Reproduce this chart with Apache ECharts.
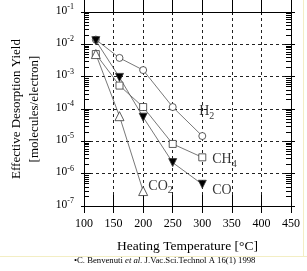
<!DOCTYPE html>
<html><head><meta charset="utf-8">
<script src="https://cdn.jsdelivr.net/npm/echarts@6/dist/echarts.min.js"></script>
<style>html,body{margin:0;padding:0;background:#fff}#c{width:307px;height:271px}</style>
</head><body><div id="c"></div>
<script>
// ---- data ----
const temps = [120, 160, 200, 250, 300];
const h2  = [1.4e-2, 3.8e-3, 1.6e-3, 1.15e-4, 1.46e-5];
const ch4 = [5.0e-3, 5.3e-4, 1.15e-4, 8.3e-6, 3.2e-6];
const co  = [1.3e-2, 9.5e-4, 5.6e-5, 2.2e-6, 4.7e-7];
const co2Temps = [120, 160, 200];
const co2 = [5.0e-3, 6.0e-5, 2.9e-7];
const xTicks = [100, 150, 200, 250, 300, 350, 400, 450];
const yExponents = [-7, -6, -5, -4, -3, -2, -1];
const speciesNames = ['H2', 'CH4', 'CO', 'CO2'];
// label anchor points (data space)
const labelPos = { H2: [294, 8.7e-5], CH4: [316, 2.85e-6], CO: [316, 3.06e-7], CO2: [208, 4.2e-7] };
const xTitle = 'Heating Temperature [°C]';
const yTitle = 'Effective Desorption Yield\n[molecules/electron]';
const footnote = ['•C. Benvenuti ', 'et al.', ' J.Vac.Sci.Technol A 16(1) 1998'];

// minor tick values for log axis
const minorVals = [];
for (const e of yExponents.slice(0, -1)) for (let k = 2; k <= 9; k++) minorVals.push(k * Math.pow(10, e));

const FONT = 'Liberation Serif';
const LINE = '#555';
const chart = echarts.init(document.getElementById('c'), null, { renderer: 'canvas' });

function subLabel(name) {
  const base = name.replace(/\d+$/, '');
  const sub = name.slice(base.length);
  return '{m|' + base + '}' + (sub ? '{s|' + sub + '}' : '');
}
const labelRich = {
  m: { fontFamily: FONT, fontSize: 14, color: '#000' },
  s: { fontFamily: FONT, fontSize: 10, color: '#000', padding: [10, 0, 0, 0] }
};

const xBase = { type: 'value', min: 100, max: 450, interval: 50, gridIndex: 0 };
const yBase = { type: 'log', logBase: 10, min: 1e-7, max: 1e-1, interval: 1, gridIndex: 0 };
const axLine = { show: true, lineStyle: { color: '#000', width: 1 } };
const noLine = { show: false };

const series = [];
const sets = [
  { name: 'H2', x: temps, y: h2, symbol: 'circle', size: 7, fill: '#fff' },
  { name: 'CH4', x: temps, y: ch4, symbol: 'rect', size: 7, fill: '#fff' },
  { name: 'CO', x: temps, y: co, symbol: 'triangle', size: 8, fill: '#000', rot: 180 },
  { name: 'CO2', x: co2Temps, y: co2, symbol: 'triangle', size: 9, fill: '#fff' }
];
for (const s of sets) {
  series.push({
    type: 'line', name: s.name, xAxisIndex: 0, yAxisIndex: 0,
    data: s.x.map((t, i) => [t, s.y[i]]),
    symbol: s.symbol, symbolSize: s.size, symbolRotate: s.rot || 0,
    showAllSymbol: true,
    lineStyle: { color: LINE, width: 0.8 },
    itemStyle: { color: s.fill, borderColor: '#333', borderWidth: 0.8 },
    z: 5, animation: false
  });
  series.push({
    type: 'scatter', xAxisIndex: 0, yAxisIndex: 0, silent: true, animation: false,
    data: [labelPos[s.name]], symbol: 'circle', symbolSize: 1,
    itemStyle: { color: 'rgba(0,0,0,0)' }, clip: false, z: 6,
    label: { show: true, position: 'right', distance: 0, formatter: subLabel(s.name), rich: labelRich }
  });
}

const gridLine = { show: true, lineStyle: { color: '#222', type: [3, 3], width: 1 } };
const option = {
  backgroundColor: '#fff',
  animation: false,
  grid: { left: 81, top: 12, width: 210, height: 194 },
  xAxis: [
    Object.assign({}, xBase, {
      position: 'bottom', axisLine: axLine,
      axisTick: { show: true, inside: false, length: 7, lineStyle: { color: '#000' } },
      axisLabel: { show: true, margin: 12, fontFamily: FONT, fontSize: 12, color: '#000',
        formatter: v => xTicks.includes(v) ? String(v) : '' },
      splitLine: gridLine,
      name: xTitle, nameLocation: 'middle', nameGap: 33,
      nameTextStyle: { fontFamily: FONT, fontSize: 13.5, color: '#000' }
    }),
    Object.assign({}, xBase, { position: 'bottom', axisLine: noLine,
      axisTick: { show: true, inside: true, length: 11, lineStyle: { color: '#000' } },
      axisLabel: { show: false }, splitLine: { show: false } }),
    Object.assign({}, xBase, { position: 'top', axisLine: axLine,
      axisTick: { show: true, inside: false, length: 12, lineStyle: { color: '#000' } },
      axisLabel: { show: false }, splitLine: { show: false } }),
    Object.assign({}, xBase, { position: 'top', axisLine: noLine,
      axisTick: { show: true, inside: true, length: 3, lineStyle: { color: '#000' } },
      axisLabel: { show: false }, splitLine: { show: false } })
  ],
  yAxis: [
    Object.assign({}, yBase, {
      position: 'left', axisLine: axLine,
      axisTick: { show: true, inside: false, length: 3, lineStyle: { color: '#000' } },
      axisLabel: { show: true, margin: 10, color: '#000',
        formatter: v => '{b|10}{s|' + Math.round(Math.log10(v)) + '}',
        rich: {
          b: { fontFamily: FONT, fontSize: 11.5, color: '#000', padding: [0, 0, 3, 0] },
          s: { fontFamily: FONT, fontSize: 8, color: '#000', padding: [0, 0, 10, 0] }
        } },
      splitLine: gridLine,
      name: yTitle, nameLocation: 'middle', nameGap: 40, nameRotate: 90,
      nameTextStyle: { fontFamily: FONT, fontSize: 13, color: '#000', lineHeight: 18, align: 'center' }
    }),
    Object.assign({}, yBase, { position: 'left', axisLine: noLine,
      axisTick: { show: true, inside: true, length: 7, lineStyle: { color: '#000' } },
      axisLabel: { show: false }, splitLine: { show: false } }),
    Object.assign({}, yBase, { position: 'right', axisLine: axLine,
      axisTick: { show: true, inside: false, length: 4, lineStyle: { color: '#000' } },
      axisLabel: { show: false }, splitLine: { show: false } }),
    Object.assign({}, yBase, { position: 'right', axisLine: noLine,
      axisTick: { show: true, inside: true, length: 6, lineStyle: { color: '#000' } },
      axisLabel: { show: false }, splitLine: { show: false } })
  ],
  series: series,
  graphic: [
    { type: 'line', shape: { x1: 0, y1: 256.5, x2: 307, y2: 256.5 }, style: { stroke: '#f3eec4', lineWidth: 1 }, silent: true },
    { type: 'line', shape: { x1: 303.5, y1: 0, x2: 303.5, y2: 257 }, style: { stroke: '#f3eec4', lineWidth: 1 }, silent: true },
    { type: 'text', left: 74, top: 256,
      style: { text: '{r|' + footnote[0] + '}{i|' + footnote[1] + '}{r|' + footnote[2] + '}',
        rich: {
          r: { fontFamily: FONT, fontSize: 8.7, fill: '#000' },
          i: { fontFamily: FONT, fontSize: 8.7, fontStyle: 'italic', fill: '#000' }
        } } }
  ]
};
chart.setOption(option);

// log minor ticks on left and right axes, positioned through the library's y scale
const minorGraphics = [];
for (const v of minorVals) {
  const pl = chart.convertToPixel({ xAxisIndex: 0, yAxisIndex: 0 }, [100, v]);
  const pr = chart.convertToPixel({ xAxisIndex: 0, yAxisIndex: 0 }, [450, v]);
  const y = Math.round(pl[1]) + 0.5;
  minorGraphics.push({ type: 'line', silent: true, z: 4,
    shape: { x1: pl[0], y1: y, x2: pl[0] + 5, y2: y }, style: { stroke: '#000', lineWidth: 1 } });
  minorGraphics.push({ type: 'line', silent: true, z: 4,
    shape: { x1: pr[0] - 5, y1: y, x2: pr[0], y2: y }, style: { stroke: '#000', lineWidth: 1 } });
}
chart.setOption({ graphic: option.graphic.concat(minorGraphics) });
</script></body></html>
